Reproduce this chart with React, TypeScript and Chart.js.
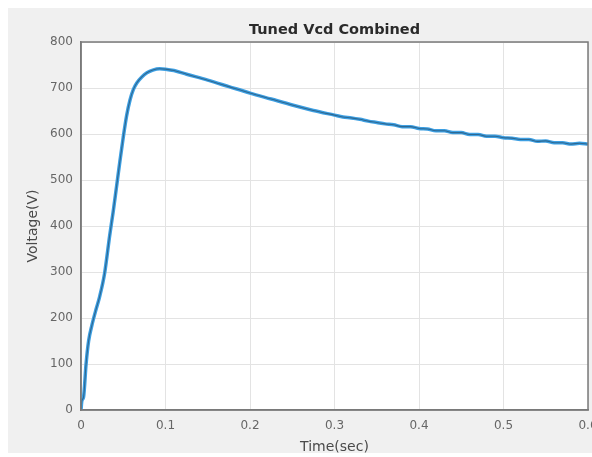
import React, { useEffect, useRef } from "react";
import { Chart, registerables } from "chart.js";

Chart.register(...registerables);

const TITLE = "Tuned Vcd Combined";
const X_LABEL = "Time(sec)";
const Y_LABEL = "Voltage(V)";

const timeSec = [
  0, 0.001, 0.003, 0.006, 0.009, 0.013, 0.018, 0.022, 0.028, 0.034, 0.038,
  0.042, 0.046, 0.05, 0.054, 0.058, 0.062, 0.066, 0.072, 0.078, 0.085, 0.093,
  0.1, 0.11, 0.125, 0.15, 0.175, 0.2, 0.225, 0.25, 0.275, 0.3, 0.31, 0.32,
  0.33, 0.34, 0.35, 0.36, 0.37, 0.38, 0.39, 0.4, 0.41, 0.42, 0.43, 0.44, 0.45,
  0.46, 0.47, 0.48, 0.49, 0.5, 0.51, 0.52, 0.53, 0.54, 0.55, 0.56, 0.57, 0.58,
  0.59, 0.6,
];

const voltage = [
  0, 20, 28, 100, 150, 185, 220, 246, 298, 380, 430, 485, 540, 593, 640, 674,
  697, 711, 724, 733, 739, 742, 741, 738, 730, 717, 703, 689, 676, 663, 651,
  641, 637, 635, 632, 628, 625, 622, 620, 616, 616, 612, 611, 607, 607, 603,
  603, 599, 599, 595, 595, 592, 591, 588, 588, 584, 585, 581, 581, 578, 580,
  578,
];

const xTicks = [0, 0.1, 0.2, 0.3, 0.4, 0.5, 0.6];
const yTicks = [0, 100, 200, 300, 400, 500, 600, 700, 800];

const FONT = "DejaVu Sans, Liberation Sans, Arial";

const boxPlugin = {
  id: "boxPlugin",
  afterDraw(chart: any) {
    const { ctx, chartArea } = chart;
    ctx.save();
    ctx.strokeStyle = "#7a7a7a";
    ctx.lineWidth = 1.5;
    ctx.strokeRect(
      chartArea.left,
      chartArea.top,
      chartArea.right - chartArea.left,
      chartArea.bottom - chartArea.top
    );
    ctx.restore();
  },
};

const bgPlugin = {
  id: "bgPlugin",
  beforeDraw(chart: any) {
    const { ctx, chartArea } = chart;
    ctx.save();
    ctx.fillStyle = "#ffffff";
    ctx.fillRect(
      chartArea.left,
      chartArea.top,
      chartArea.right - chartArea.left,
      chartArea.bottom - chartArea.top
    );
    ctx.restore();
  },
};

export default function App() {
  const ref = useRef<HTMLCanvasElement | null>(null);

  useEffect(() => {
    if (!ref.current) return;
    const pts = timeSec.map((t, i) => ({ x: t, y: voltage[i] }));
    const chart = new Chart(ref.current, {
      type: "line",
      data: {
        datasets: [
          {
            data: pts,
            borderColor: "#2e6892",
            borderWidth: 1.1,
            pointRadius: 0,
            cubicInterpolationMode: "monotone",
          },
          {
            data: pts,
            borderColor: "#3d9fe2",
            borderWidth: 3.5,
            pointRadius: 0,
            cubicInterpolationMode: "monotone",
          },
        ],
      },
      options: {
        animation: false,
        responsive: true,
        maintainAspectRatio: false,
        layout: { padding: { left: 0, right: 4, top: 0, bottom: 0 } },
        plugins: {
          legend: { display: false },
          tooltip: { enabled: false },
          title: {
            display: true,
            text: TITLE,
            fullSize: false,
            color: "#2a2a2a",
            font: { family: FONT, size: 14.5, weight: "bold", lineHeight: 1.2 },
            padding: { top: 13.3, bottom: 3.3 },
          },
        },
        scales: {
          x: {
            type: "linear",
            min: 0,
            max: 0.6,
            afterBuildTicks: (s: any) => {
              s.ticks = xTicks.map((v) => ({ value: v }));
            },
            afterFit: (s: any) => {
              s.height = 43;
              s.paddingLeft = 0;
              s.paddingRight = 0;
            },
            ticks: {
              color: "#666666",
              font: { family: FONT, size: 12 },
              padding: 9,
              maxRotation: 0,
              autoSkip: false,
              callback: (v: any) => String(Number(v)),
            },
            grid: { color: "#e3e3e3", lineWidth: 1, drawTicks: false },
            border: { color: "#7a7a7a", width: 1.5 },
            title: {
              display: true,
              text: X_LABEL,
              color: "#4a4a4a",
              font: { family: FONT, size: 14, lineHeight: 0.86 },
              padding: { top: 0, bottom: 0 },
            },
          },
          y: {
            type: "linear",
            min: 0,
            max: 800,
            afterBuildTicks: (s: any) => {
              s.ticks = yTicks.map((v) => ({ value: v }));
            },
            afterFit: (s: any) => {
              s.width = 73;
              s.paddingTop = 0;
              s.paddingBottom = 0;
            },
            ticks: {
              color: "#666666",
              font: { family: FONT, size: 12 },
              padding: 8,
              autoSkip: false,
            },
            grid: { color: "#e3e3e3", lineWidth: 1, drawTicks: false },
            border: { color: "#7a7a7a", width: 1.5 },
            title: {
              display: true,
              text: Y_LABEL,
              color: "#4a4a4a",
              font: { family: FONT, size: 14, lineHeight: 1.2 },
              padding: { top: 16.6, bottom: 0 },
            },
          },
        },
      },
      plugins: [bgPlugin, boxPlugin],
    } as any);
    return () => chart.destroy();
  }, []);

  return (
    <div
      style={{
        position: "fixed",
        left: 8,
        top: 8,
        width: 584,
        height: 445,
        background: "#f0f0f0",
      }}
    >
      <canvas ref={ref} />
    </div>
  );
}
